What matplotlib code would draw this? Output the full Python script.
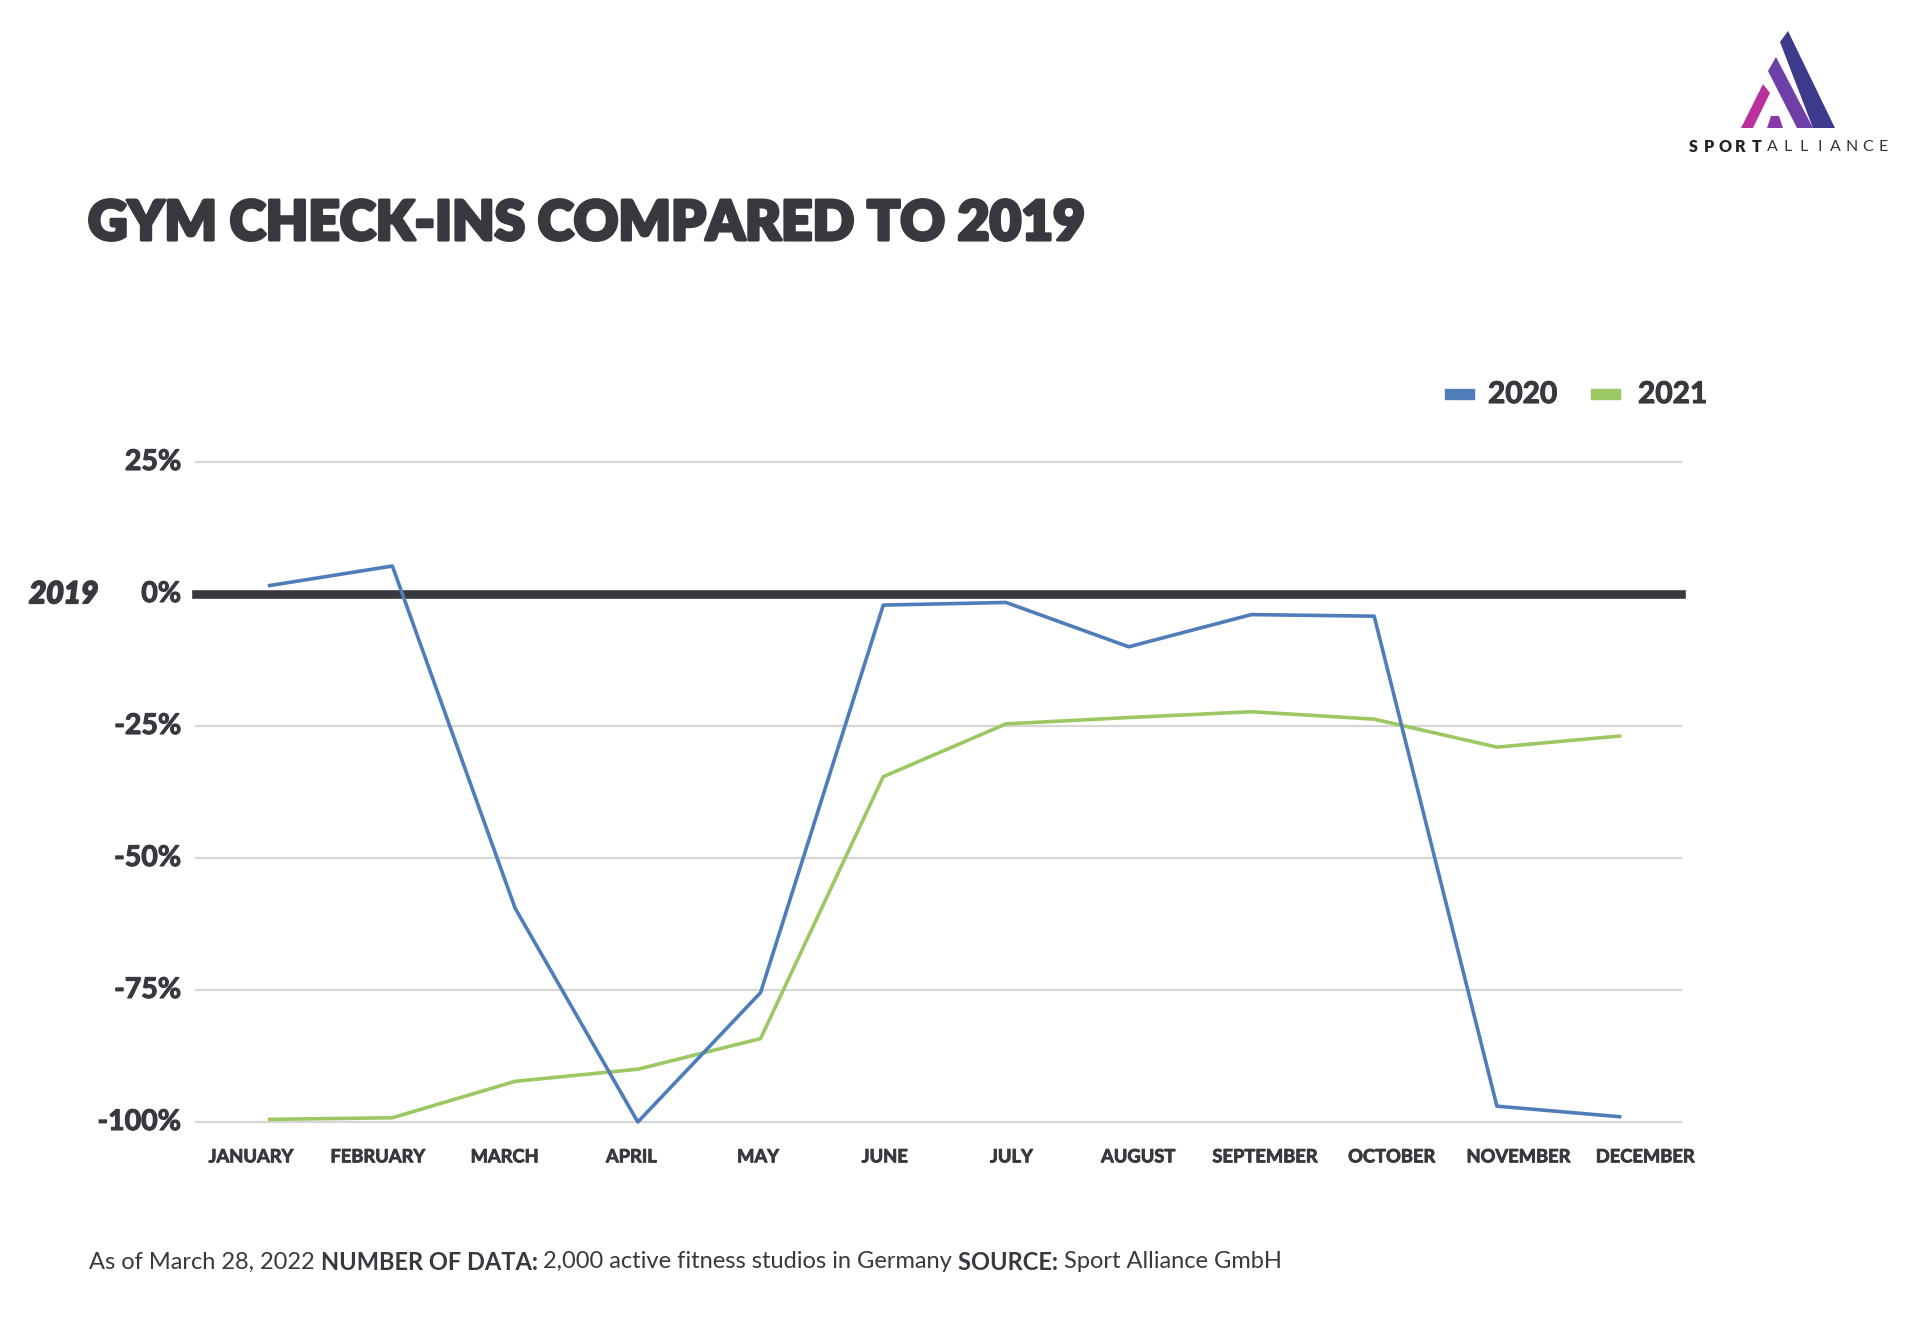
import matplotlib
matplotlib.use("Agg")
import matplotlib.pyplot as plt
import matplotlib.transforms as mtransforms
import matplotlib.patheffects as pe
from matplotlib.patches import Polygon, Rectangle

months = ["JANUARY", "FEBRUARY", "MARCH", "APRIL", "MAY", "JUNE", "JULY",
          "AUGUST", "SEPTEMBER", "OCTOBER", "NOVEMBER", "DECEMBER"]
vals_2020 = [1.6, 5.3, -59.5, -100.0, -75.5, -2.1, -1.6, -10.0, -3.9, -4.2, -97.0, -99.0]
vals_2021 = [-99.5, -99.2, -92.3, -90.0, -84.2, -34.6, -24.6, -23.4, -22.3, -23.7, -29.0, -26.9]
yticks = [25, 0, -25, -50, -75, -100]
ytick_labels = ["25%", "0%", "-25%", "-50%", "-75%", "-100%"]
series_names = ["2020", "2021"]

W, H = 1920, 1342
DARK = "#38383f"
BLUE = "#4f7dba"
GREEN = "#9cc863"
GRID = "#d6d6d6"

plt.rcParams['font.family'] = ['Lato', 'DejaVu Sans']

fig = plt.figure(figsize=(W / 100, H / 100), dpi=100)
fig.patch.set_facecolor("white")

def fx(px):
    return px / W

def fy(py):
    return 1 - py / H

def thick(w):
    return [pe.withStroke(linewidth=w, foreground=DARK)]

# axes: left 196px, right 1681px, top (25%) 462px, bottom (-100%) 1122px
ax = fig.add_axes([fx(196), fy(1122), fx(1681) - fx(196), fy(462) - fy(1122)])
ax.set_xlim(-0.6, 11.5)
ax.set_ylim(-100, 25)
for s in ax.spines.values():
    s.set_visible(False)
ax.set_xticks([])
ax.set_yticks([])

for t in yticks:
    if t != 0:
        ax.axhline(t, color=GRID, lw=1.6, zorder=1, clip_on=False)
ax.axhline(0, color=DARK, lw=6.2, zorder=2, clip_on=False)

x = list(range(len(months)))
ax.plot(x, vals_2020, color=BLUE, lw=2.6, zorder=4, clip_on=False)
ax.plot(x, vals_2021, color=GREEN, lw=2.6, zorder=3, clip_on=False)

# y tick labels
for t, lab in zip(yticks, ytick_labels):
    ax.text(-0.72, t, lab, ha="right", va="center", fontsize=20.5, fontweight="bold",
            color=DARK, clip_on=False, path_effects=thick(0.8))
trans = mtransforms.blended_transform_factory(fig.transFigure, ax.transData)
ax.text(fx(29), 0, "2019", transform=trans, ha="left", va="center",
        fontsize=21.5, fontweight="bold", fontstyle="italic", color=DARK,
        path_effects=thick(1.6))

# month labels (spread slightly wider than the data points, as in the original)
n = len(months)
for i, m in enumerate(months):
    pos = -0.15 + i * 11.36 / (n - 1)
    ax.text(pos, -106.6, m, ha="center", va="center", fontsize=13.2, fontweight="bold",
            color=DARK, clip_on=False, path_effects=thick(0.6))

# title
fig.text(fx(88), fy(224), "GYM CHECK-INS COMPARED TO 2019", ha="left", va="center",
         fontsize=39.5, fontweight="heavy", color=DARK, path_effects=thick(2.2))

# legend
fig.patches.append(Rectangle((fx(1445), fy(399)), fx(29), fy(389) - fy(399),
                             transform=fig.transFigure, color=BLUE, figure=fig))
fig.text(fx(1488), fy(394), series_names[0], ha="left", va="center", fontsize=21.5,
         fontweight="bold", color=DARK, path_effects=thick(0.8))
fig.patches.append(Rectangle((fx(1591), fy(399)), fx(29), fy(389) - fy(399),
                             transform=fig.transFigure, color=GREEN, figure=fig))
fig.text(fx(1638), fy(394), series_names[1], ha="left", va="center", fontsize=21.5,
         fontweight="bold", color=DARK, path_effects=thick(0.8))

# footer
fig.canvas.draw()
r = fig.canvas.get_renderer()
parts = [("As of March 28, 2022 ", "normal"), ("NUMBER OF DATA: ", "bold"),
         ("2,000 active fitness studios in Germany ", "normal"), ("SOURCE: ", "bold"),
         ("Sport Alliance GmbH", "normal")]
xpos = 89
for txt, wgt in parts:
    t = fig.text(fx(xpos), fy(1262), txt, ha="left", va="center", fontsize=17,
                 fontweight=wgt, color=DARK)
    bb = t.get_window_extent(renderer=r)
    xpos += bb.width

# logo
def poly(pts, color):
    fig.patches.append(Polygon([(fx(a), fy(b)) for a, b in pts], closed=True,
                               transform=fig.transFigure, facecolor=color,
                               edgecolor="none", figure=fig))

poly([(1741, 128), (1753, 128), (1770, 93), (1763, 84)], "#b9329c")
poly([(1767, 128), (1783, 128), (1779, 116), (1771, 116)], "#8a3aa6")
poly([(1768, 71), (1776, 57), (1813, 128), (1797, 128)], "#6e3fa8")
poly([(1780, 42), (1788, 31), (1835, 128), (1813, 128)], "#3d3a8c")

logo = "SPORTALLIANCE"
lx0, lx1 = 1693, 1883
for i, ch in enumerate(logo):
    px = lx0 + i * (lx1 - lx0) / (len(logo) - 1)
    bold = i < 5
    fig.text(fx(px), fy(147), ch, ha="center", va="center", fontsize=11.5,
             fontweight="heavy" if bold else "normal",
             color="#222226" if bold else "#333338")

fig.savefig("out.png", dpi=100, facecolor="white")
